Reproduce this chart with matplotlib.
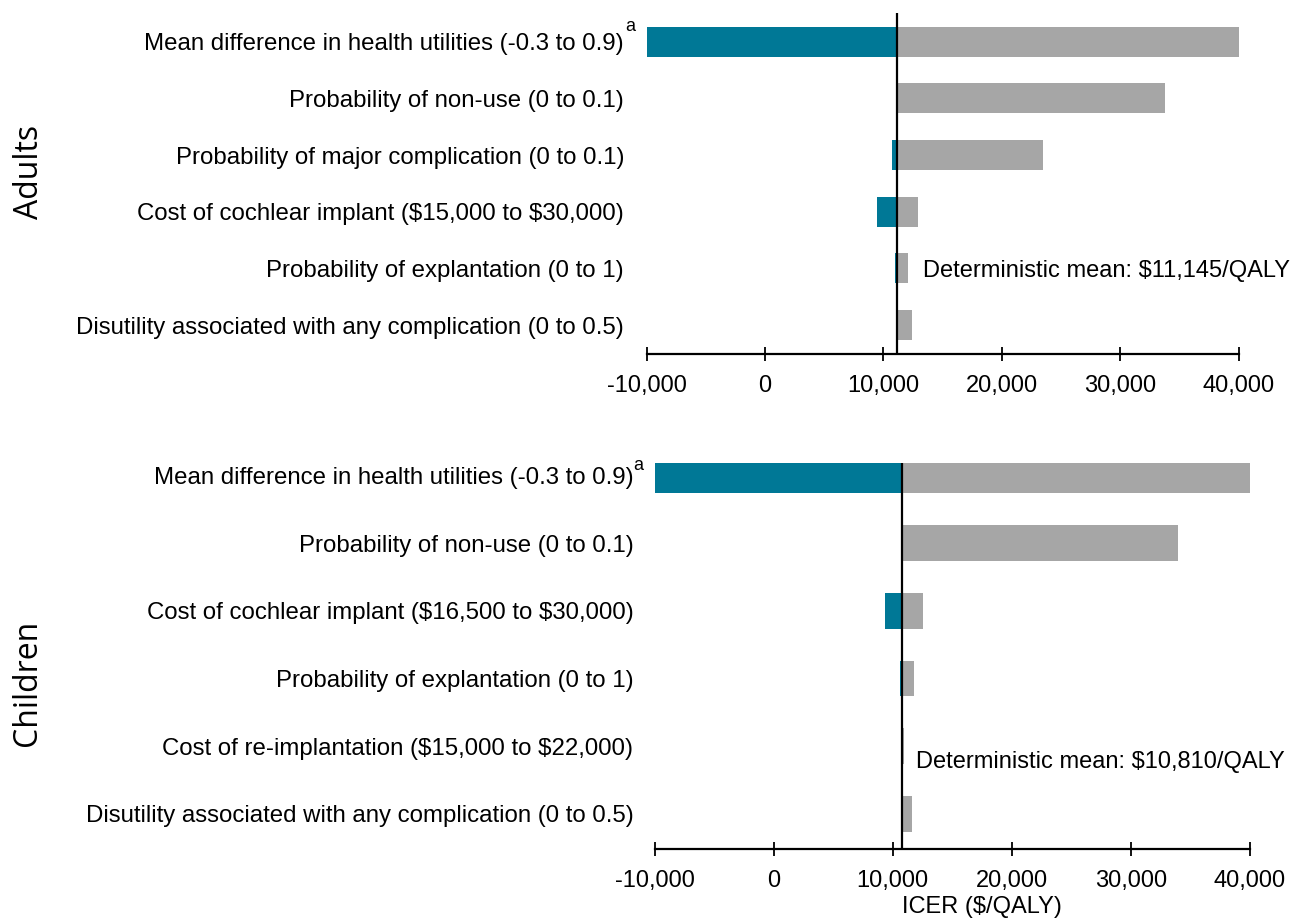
import matplotlib
matplotlib.use("Agg")
import matplotlib.pyplot as plt
from matplotlib.transforms import blended_transform_factory

# ---- data -------------------------------------------------------------
adult_params = [
    "Mean difference in health utilities (-0.3 to 0.9)",
    "Probability of non-use (0 to 0.1)",
    "Probability of major complication (0 to 0.1)",
    "Cost of cochlear implant ($15,000 to $30,000)",
    "Probability of explantation (0 to 1)",
    "Disutility associated with any complication (0 to 0.5)",
]
adult_low = [-10000, 11145, 10750, 9510, 11000, 11145]
adult_high = [40000, 33810, 23450, 12970, 12080, 12460]
adult_mean = 11145

child_params = [
    "Mean difference in health utilities (-0.3 to 0.9)",
    "Probability of non-use (0 to 0.1)",
    "Cost of cochlear implant ($16,500 to $30,000)",
    "Probability of explantation (0 to 1)",
    "Cost of re-implantation ($15,000 to $22,000)",
    "Disutility associated with any complication (0 to 0.5)",
]
child_low = [-10000, 10810, 9380, 10620, 10810, 10810]
child_high = [40000, 34010, 12550, 11820, 10960, 11650]
child_mean = 10810

x_ticks = [-10000, 0, 10000, 20000, 30000, 40000]
x_tick_labels = ["-10,000", "0", "10,000", "20,000", "30,000", "40,000"]

TEAL = "#007896"
GRAY = "#A6A6A6"
FONT = ["Liberation Sans", "DejaVu Sans"]
LABEL_SIZE = 17.3

plt.rcParams["font.family"] = FONT

W, H = 1298, 919
fig = plt.figure(figsize=(W / 100, H / 100), dpi=100)
fig.patch.set_facecolor("white")

ax_top = fig.add_axes([646.5 / W, 1 - 354 / H, 592 / W, 341 / H])
ax_bot = fig.add_axes([654.7 / W, 1 - 849 / H, 595 / W, 386 / H])


def draw_panel(ax, params, low, high, mean, ylim, label_pad, sup_dy):
    rows = list(range(len(params)))
    for r, lo, hi in zip(rows, low, high):
        if hi > mean:
            ax.barh(r, hi - mean, left=mean, height=0.53, color=GRAY, zorder=2)
        if lo < mean:
            ax.barh(r, lo - mean, left=mean, height=0.53, color=TEAL, zorder=2)
    ax.axvline(mean, color="black", lw=1.6, zorder=3)

    ax.set_xlim(-10000, 40000)
    ax.set_ylim(*ylim)

    ax.set_yticks(rows)
    ax.set_yticklabels(params)
    for t in ax.get_yticklabels():
        t.set_parse_math(False)
    ax.tick_params(axis="y", length=0, pad=label_pad, labelsize=LABEL_SIZE)

    ax.set_xticks(x_ticks)
    ax.set_xticklabels(x_tick_labels)
    ax.tick_params(axis="x", direction="inout", length=9.5, width=1.3,
                   labelsize=17, pad=10.4, color="black")

    for side in ("top", "left", "right"):
        ax.spines[side].set_visible(False)
    ax.spines["bottom"].set_linewidth(1.6)
    ax.set_facecolor("none")

    # footnote marker on the first parameter label
    ax.annotate("a", xy=(0, rows[0]), xycoords=("axes fraction", "data"),
                xytext=(-16, sup_dy), textcoords="offset pixels",
                ha="center", va="center", fontsize=13)


draw_panel(ax_top, adult_params, adult_low, adult_high, adult_mean,
           (5.51, -0.505), 16.2, 15)
draw_panel(ax_bot, child_params, child_low, child_high, child_mean,
           (5.52, -0.185), 15.3, 10.5)

# deterministic mean annotations
tr_top = blended_transform_factory(ax_top.transAxes, ax_top.transData)
ax_top.text(0.4667, 4.04, f"Deterministic mean: ${adult_mean:,}/QALY",
            transform=tr_top, ha="left", va="center", fontsize=17,
            parse_math=False)
tr_bot = blended_transform_factory(ax_bot.transAxes, ax_bot.transData)
ax_bot.text(0.439, 4.24, f"Deterministic mean: ${child_mean:,}/QALY",
            transform=tr_bot, ha="left", va="center", fontsize=17,
            parse_math=False)

# x-axis title
ax_bot.text(0.5496, -0.1495, "ICER ($/QALY)", transform=ax_bot.transAxes,
            ha="center", va="center", fontsize=17, parse_math=False)

# panel titles
fig.text(29.5 / W, 1 - 171.5 / H, "Adults", rotation=90, ha="center",
         va="center", fontsize=23, family=["Open Sans", "DejaVu Sans"])
fig.text(27.5 / W, 1 - 683.3 / H, "Children", rotation=90, ha="center",
         va="center", fontsize=23, family=["Open Sans", "DejaVu Sans"])

fig.savefig("out.png", dpi=100, facecolor="white")
